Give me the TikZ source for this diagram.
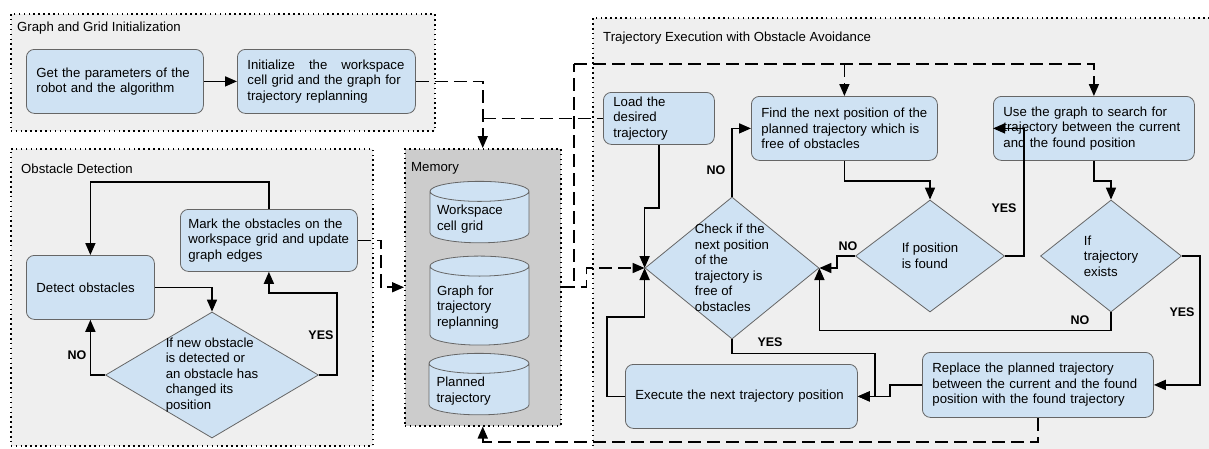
\documentclass[tikz,border=0pt]{standalone}
\usepackage{fontspec}
\setmainfont{Liberation Sans}
\usepackage{tikz}
\usetikzlibrary{positioning,shapes.geometric,arrows.meta,calc}
\definecolor{BoxBlue}{HTML}{CFE2F3}
\definecolor{EdgeGray}{HTML}{666666}
\definecolor{PanelGray}{HTML}{EFEFEF}
\definecolor{MemGray}{HTML}{CCCCCC}

\begin{document}
\begin{tikzpicture}[x=1pt, y=-1pt,
    font=\fontsize{13.2}{15.5}\selectfont,
    panel/.style={draw, fill=PanelGray, line width=1.5pt, dash pattern=on 1.5pt off 3.4pt, anchor=north west, inner sep=0pt},
    ptitle/.style={anchor=west, inner sep=0pt},
    proc/.style={draw=EdgeGray, fill=BoxBlue, rounded corners=8pt, line width=0.8pt, anchor=north west, align=left, inner xsep=10pt, inner ysep=0pt,
        execute at begin node={\hyphenpenalty=10000\exhyphenpenalty=10000}},
    decision/.style={diamond, draw=EdgeGray, fill=BoxBlue, line width=0.8pt, inner sep=0pt},
    dtext/.style={align=left, inner sep=0pt},
    store/.style={cylinder, shape border rotate=90, aspect=0.22, draw=EdgeGray, fill=BoxBlue, line width=0.8pt, align=left, text width=85pt, inner xsep=3pt},
    arrow/.style={-{Triangle[length=12pt,width=10pt]}, line width=1.6pt},
    flow/.style={line width=1.6pt},
    dasharrow/.style={arrow, dash pattern=on 13pt off 6pt},
    dashline/.style={flow, dash pattern=on 13pt off 6pt},
    lbl/.style={font=\fontsize{12.5}{14}\selectfont\bfseries, inner sep=0pt}
]
    \fill[white] (0,0) rectangle (1209,448);
    \useasboundingbox (0,0) rectangle (1209,448);

    % Panels
    \node[panel, minimum width=424pt, minimum height=117pt] (pinit) at (10,13) {};
    \node[panel, minimum width=362pt, minimum height=297pt] (pobs) at (10,148) {};
    \node[panel, fill=MemGray, minimum width=156pt, minimum height=277pt] (pmem) at (404,148) {};
    \node[panel, minimum width=625pt, minimum height=440pt] (ptraj) at (592,17) {};
    \node[ptitle] (tinit) at (17,28) {Graph and Grid Initialization};
    \node[ptitle] (tobs) at (21,169) {Obstacle Detection};
    \node[ptitle] (tmem) at (411,168) {Memory};
    \node[ptitle] (ttraj) at (603,38) {Trajectory Execution with Obstacle Avoidance};

    % Graph and grid initialization
    \node[proc, text width=157pt, minimum height=64pt] (getpar) at (26,49) {Get the parameters of the\\robot and the algorithm};
    \node[proc, text width=158pt, minimum height=64pt] (initgrid) at (237,49) {\hbox to 157pt{Initialize\hfill the\hfill workspace}\\cell grid and the graph for\\trajectory replanning};

    % Obstacle detection
    \node[proc, inner xsep=8pt, text width=161pt, minimum height=62pt] (mark) at (180,209) {Mark the obstacles on the\\workspace grid and update\\graph edges};
    \node[proc, text width=108pt, minimum height=64pt] (detect) at (26,255) {Detect obstacles};
    \node[decision, minimum width=213pt, minimum height=126pt,
        label={[dtext]center:If new obstacle\\is detected or\\an obstacle has\\changed its\\position}] (newobs) at (212,375) {};

    % Memory
    \node[store, minimum width=99pt, minimum height=60pt] (mgrid) at (479.5,219) {Workspace\\cell grid};
    \node[store, minimum width=99pt, minimum height=89pt] (mgraph) at (479.5,307.5) {Graph for\\trajectory\\replanning};
    \node[store, minimum width=100pt, minimum height=52pt] (mplan) at (479,391) {Planned\\trajectory};

    % Trajectory execution
    \node[proc, text width=91pt, minimum height=52pt] (load) at (603,92) {Load the\\desired\\trajectory};
    \node[proc, text width=166pt, minimum height=64pt] (findnext) at (751,96) {Find the next position of the\\planned trajectory which is\\free of obstacles};
    \node[proc, text width=181pt, minimum height=64pt] (usegraph) at (993,96) {Use the graph to search for\\trajectory between the current\\and the found position};
    \node[decision, minimum width=174pt, minimum height=142pt,
        label={[dtext]center:Check if the\\next position\\of the\\trajectory is\\free of\\obstacles}] (checkpos) at (732,268) {};
    \node[decision, minimum width=149pt, minimum height=112pt,
        label={[dtext]center:If position\\is found}] (posfound) at (930,256) {};
    \node[decision, minimum width=141pt, minimum height=112pt,
        label={[dtext]center:If\\trajectory\\exists}] (trajex) at (1111,256) {};
    \node[proc, text width=212pt, minimum height=64pt] (execute) at (625,364) {Execute the next trajectory position};
    \node[proc, text width=211pt, minimum height=65pt] (replace) at (922,352) {Replace the planned trajectory\\between the current and the found\\position with the found trajectory};

    % Arrows
    \draw[arrow] (getpar) -- (initgrid);
    \draw[arrow] (detect.east) -| (newobs.north);
    \draw[arrow] (newobs.east) -- ++(18,0) |- ($(mark.south)+(0,21)$) -- (mark.south);
    \draw[arrow] (newobs.west) -| (detect.south);
    \draw[arrow] (mark.north) -- ++(0,-27) -| (detect.north);
    \draw[arrow] (load.south) -- ++(0,63) -| (checkpos.west);
    \draw[arrow] (checkpos.north) |- (findnext.west);
    \draw[arrow] (findnext.south) -- ++(0,20) -| (posfound.north);
    \draw[arrow] (posfound.east) -- ++(19,0) |- (usegraph.west);
    \draw[arrow] (posfound.west) -- ++(-18,0) |- (checkpos.east);
    \draw[arrow] (usegraph.south) -- ++(0,20) -| (trajex.north);
    \draw[arrow] (trajex.south) -- ++(0,18) -| (checkpos.east);
    \draw[arrow] (trajex.east) -- ++(18,0) |- (replace.east);
    \draw[arrow] (checkpos.south) -- ++(0,14) -| ($(execute.east)+(17,0)$) -- (execute.east);
    \draw[arrow] (replace.west) -- ++(-32,0) |- (execute.east);
    \draw[arrow] (execute.west) -- ++(-18,0) |- ($(checkpos.west)+(0,49)$) -- (checkpos.west);

    % Memory access
    \coordinate (bus) at (574,64);
    \draw[dasharrow] (initgrid.east) -| (pmem.north);
    \draw[dashline] (pmem.north |- load.west) -- (load.west);
    \draw[dasharrow] (mark.east) -- ++(23,0) |- (pmem.west);
    \draw[dashline] (pmem.east) -| (bus);
    \draw[dasharrow] (bus) -| (usegraph.north);
    \draw[dasharrow] (bus -| findnext.north) -- (findnext.north);
    \draw[dasharrow] (pmem.east) -- ++(25,0) |- (checkpos.west);
    \draw[dasharrow] (replace.south) -- ++(0,24) -| (pmem.south);

    % Labels
    \node[lbl] (yes1) at (321,335) {YES};
    \node[lbl] (no1) at (77,355) {NO};
    \node[lbl] (no2) at (716,170) {NO};
    \node[lbl] (yes2) at (1004,208) {YES};
    \node[lbl] (no3) at (848,246) {NO};
    \node[lbl] (no4) at (1080,320) {NO};
    \node[lbl] (yes3) at (1182,312) {YES};
    \node[lbl] (yes4) at (770,342) {YES};
\end{tikzpicture}
\end{document}
